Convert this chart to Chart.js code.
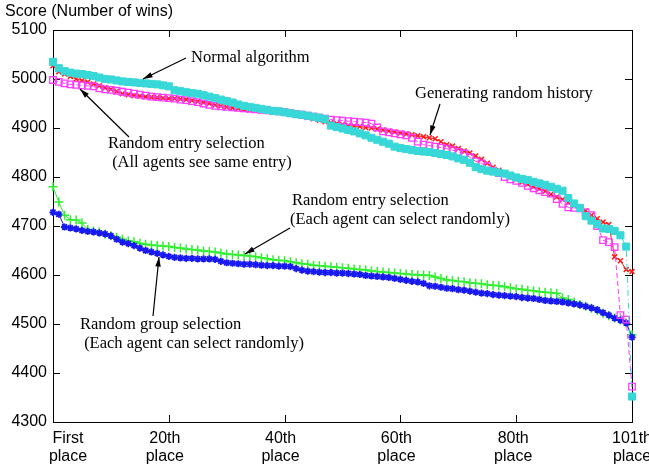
<!DOCTYPE html>
<html><head><meta charset="utf-8">
<script src="https://cdn.jsdelivr.net/npm/chart.js@4/dist/chart.umd.min.js"></script>
<style>html,body{margin:0;padding:0;background:#fff}#wrap{width:649px;height:465px}</style>
</head><body><div id="wrap"><canvas id="c" width="649" height="465"></canvas></div>
<script>
// ---- data ----
const xTickValues = [0, 20, 40, 60, 80, 100];
const xTickLabels = [["First","place"],["20th","place"],["40th","place"],["60th","place"],["80th","place"],["101th","place"]];
const yMin = 4300, yMax = 5100, yStep = 100;
const seriesNames = ["Normal algorithm","Generating random history","Random entry selection (All agents see same entry)","Random entry selection (Each agent can select randomly)","Random group selection (Each agent can select randomly)"];

const normalAlgorithm = [5035,5022,5016,5013,5011,5010,5008,5006,5003,5000,4999,4997,4995,4994,4993,4992,4991,4990,4989,4987,
4985,4977,4975,4973,4971,4970,4967,4964,4961,4958,4955,4952,4948,4945,4943,4941,4939,4937,4935,4934,
4932,4930,4928,4927,4925,4923,4921,4918,4905,4902,4899,4896,4893,4889,4885,4880,4876,4872,4868,4862,
4859,4857,4855,4853,4852,4851,4849,4847,4845,4842,4838,4835,4829,4820,4816,4813,4811,4809,4807,4803,
4799,4796,4794,4790,4787,4784,4780,4776,4772,4757,4746,4737,4720,4711,4704,4695,4694,4690,4681,4658,4352];

const randomHistory = [5027,5015,5010,5005,5000,4997,4994,4990,4986,4982,4979,4975,4970,4968,4966,4965,4964,4963,4962,4961,
4960,4960,4959,4958,4956,4954,4952,4950,4947,4945,4943,4941,4940,4938,4937,4936,4935,4934,4933,4932,
4931,4929,4927,4925,4922,4919,4916,4913,4911,4909,4907,4905,4904,4903,4901,4900,4898,4896,4894,4892,
4890,4888,4886,4884,4882,4880,4878,4872,4866,4863,4858,4853,4849,4843,4836,4828,4820,4814,4808,4802,
4796,4790,4785,4780,4776,4771,4765,4759,4754,4748,4742,4737,4731,4722,4715,4708,4703,4637,4629,4611,4607];

const entrySame = [4998,4994,4991,4989,4988,4987,4986,4985,4981,4979,4978,4976,4974,4972,4970,4968,4966,4964,4963,4962,
4961,4960,4958,4957,4955,4953,4950,4947,4945,4944,4943,4942,4941,4940,4939,4938,4937,4936,4935,4934,
4933,4931,4929,4927,4925,4923,4921,4919,4917,4916,4915,4914,4913,4912,4911,4909,4901,4893,4891,4889,
4887,4885,4880,4872,4866,4864,4862,4860,4858,4855,4851,4848,4840,4832,4828,4822,4813,4808,4800,4795,
4792,4788,4782,4777,4773,4769,4766,4755,4745,4738,4737,4736,4728,4722,4700,4671,4667,4657,4518,4509,4372];

const entryEach = [4780,4749,4722,4713,4712,4706,4693,4690,4688,4683,4680,4677,4673,4670,4668,4665,4663,4661,4660,4659,
4658,4656,4655,4653,4652,4651,4649,4648,4647,4645,4643,4642,4641,4640,4639,4637,4635,4633,4631,4630,
4629,4627,4625,4623,4622,4620,4619,4618,4617,4616,4615,4614,4612,4611,4610,4608,4607,4606,4605,4604,
4603,4602,4601,4600,4600,4599,4596,4593,4590,4589,4587,4586,4584,4583,4582,4580,4579,4578,4576,4574,
4572,4571,4569,4568,4566,4565,4564,4563,4553,4550,4545,4540,4536,4532,4528,4522,4517,4512,4508,4502,4478];

const groupEach = [4728,4724,4698,4696,4694,4691,4689,4688,4686,4684,4680,4673,4667,4664,4660,4655,4650,4647,4644,4641,
4638,4636,4635,4634,4634,4633,4633,4633,4632,4628,4625,4624,4623,4622,4622,4621,4620,4619,4619,4618,
4618,4617,4613,4610,4608,4607,4606,4605,4605,4604,4604,4603,4602,4601,4599,4598,4597,4596,4595,4593,
4591,4589,4587,4586,4583,4578,4577,4575,4573,4572,4570,4569,4567,4565,4563,4562,4560,4559,4558,4557,
4556,4554,4553,4552,4550,4548,4547,4546,4545,4543,4541,4539,4536,4533,4529,4523,4518,4512,4508,4502,4473];

const toPts = arr => arr.map((v, i) => ({x: i, y: v}));

const SANS = '"Liberation Sans", Arial, sans-serif';
const SERIF = '"Liberation Serif", "Times New Roman", serif';

const deco = {
  id: 'deco',
  beforeDatasetsDraw(chart) {
    const {ctx, chartArea: a, scales: {x, y}} = chart;
    ctx.save();
    ctx.strokeStyle = '#000';
    ctx.lineWidth = 1;
    ctx.strokeRect(Math.round(a.left) + 0.5, Math.round(a.top) + 0.5, Math.round(a.right - a.left), Math.round(a.bottom - a.top));
    ctx.beginPath();
    for (let v = yMin; v <= yMax; v += yStep) {
      const py = Math.round(y.getPixelForValue(v)) + 0.5;
      ctx.moveTo(a.left, py); ctx.lineTo(a.left + 7, py);
      ctx.moveTo(a.right, py); ctx.lineTo(a.right - 7, py);
    }
    xTickValues.forEach(v => {
      const px = Math.round(x.getPixelForValue(v)) + 0.5;
      ctx.moveTo(px, a.bottom); ctx.lineTo(px, a.bottom - 7);
      ctx.moveTo(px, a.top); ctx.lineTo(px, a.top + 7);
    });
    ctx.stroke();
    ctx.restore();
  },
  afterDraw(chart) {
    const {ctx, scales: {x}} = chart;
    ctx.save();
    ctx.fillStyle = '#000';
    ctx.font = '16px ' + SANS;
    ctx.textAlign = 'left'; ctx.textBaseline = 'middle';
    ctx.fillText('Score (Number of wins)', 5, 12);
    const offs = [15, -4, -4, -4, -3, 0];
    ctx.textAlign = 'center';
    xTickValues.forEach((v, i) => {
      const px = x.getPixelForValue(v) + offs[i];
      ctx.fillText(xTickLabels[i][0], px, 439);
      ctx.fillText(xTickLabels[i][1], px, 457);
    });
    ctx.font = '16.5px ' + SERIF;
    ctx.textAlign = 'left';
    const texts = [
      ['Normal algorithm', 191, 58],
      ['Generating random history', 415, 94],
      ['Random entry selection', 108, 144],
      [' (All agents see same entry)', 108, 163],
      ['Random entry selection', 292, 201],
      ['(Each agent can select randomly)', 290, 220],
      ['Random group selection', 80, 325],
      [' (Each agent can select randomly)', 80, 344]
    ];
    texts.forEach(t => ctx.fillText(t[0], t[1], t[2]));
    const arrows = [
      [186, 58, 143, 79],
      [129, 137, 80, 89],
      [440, 104, 430, 135],
      [290, 228, 245, 254],
      [153, 316, 159, 257]
    ];
    ctx.strokeStyle = '#000'; ctx.lineWidth = 1.2;
    arrows.forEach(([x1, y1, x2, y2]) => {
      const ang = Math.atan2(y2 - y1, x2 - x1);
      ctx.beginPath(); ctx.moveTo(x1, y1); ctx.lineTo(x2, y2); ctx.stroke();
      const L = 10, h = 0.28;
      ctx.beginPath();
      ctx.moveTo(x2, y2);
      ctx.lineTo(x2 - L * Math.cos(ang - h), y2 - L * Math.sin(ang - h));
      ctx.lineTo(x2 - L * Math.cos(ang + h), y2 - L * Math.sin(ang + h));
      ctx.closePath(); ctx.fill();
    });
    ctx.restore();
  }
};

const CYAN = '#38d8d8', RED = '#ff1a1a', MAG = '#ff3cff', GREEN = '#2ef02e', BLUE = '#1818f0';

new Chart(document.getElementById('c'), {
  type: 'line',
  data: {
    datasets: [
      {label: seriesNames[0], data: toPts(normalAlgorithm), borderColor: CYAN, borderWidth: 1, borderDash: [6,3,1,3],
       pointStyle: 'rect', pointRadius: 5, pointBackgroundColor: CYAN, pointBorderColor: CYAN, pointBorderWidth: 1},
      {label: seriesNames[2], data: toPts(entrySame), borderColor: MAG, borderWidth: 1, borderDash: [5,3],
       pointStyle: 'rect', pointRadius: 4.6, pointBackgroundColor: 'rgba(0,0,0,0)', pointBorderColor: MAG, pointBorderWidth: 1.3},
      {label: seriesNames[1], data: toPts(randomHistory), borderColor: RED, borderWidth: 1,
       pointStyle: 'crossRot', pointRadius: 3.5, pointBorderColor: RED, pointBorderWidth: 1.5},
      {label: seriesNames[4], data: toPts(groupEach), borderColor: BLUE, borderWidth: 1,
       pointStyle: 'star', pointRadius: 3.6, pointBorderColor: BLUE, pointBackgroundColor: BLUE, pointBorderWidth: 1.8},
      {label: seriesNames[3], data: toPts(entryEach), borderColor: GREEN, borderWidth: 1,
       pointStyle: 'cross', pointRadius: 4.5, pointBorderColor: GREEN, pointBorderWidth: 1.5}
    ]
  },
  options: {
    responsive: false, animation: false, devicePixelRatio: 1,
    layout: {padding: {top: 30, right: 17, left: 0, bottom: 0}},
    elements: {line: {tension: 0}},
    datasets: {line: {clip: false}},
    plugins: {legend: {display: false}, tooltip: {enabled: false}, title: {display: false}},
    scales: {
      x: {type: 'linear', min: 0, max: 100,
          grid: {display: false, drawTicks: false}, border: {display: false},
          ticks: {display: false},
          afterFit: s => { s.height = 43; }},
      y: {type: 'linear', min: yMin, max: yMax,
          grid: {display: false, drawTicks: false}, border: {display: false},
          ticks: {stepSize: yStep, color: '#000', padding: 6, font: {family: SANS, size: 16},
                  callback: v => String(v)},
          afterFit: s => { s.width = 53; }}
    }
  },
  plugins: [deco]
});
</script></body></html>
